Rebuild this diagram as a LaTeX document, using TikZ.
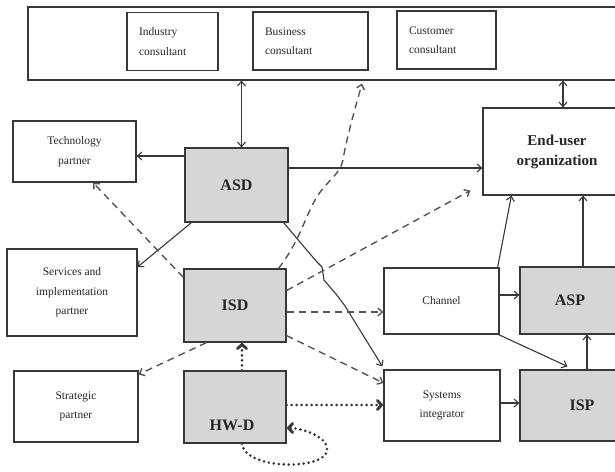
\documentclass[tikz,border=0pt]{standalone}
\usepackage{fontspec}
\setmainfont{Liberation Serif}
\usetikzlibrary{arrows.meta}
\definecolor{boxfill}{HTML}{D6D6D6}
\definecolor{ln}{HTML}{383838}
\definecolor{dl}{HTML}{555555}
\begin{document}
\begin{tikzpicture}[x=1pt,y=-1pt,
  every node/.style={inner sep=0pt,text=black!85,font=\fontsize{11.5}{19.5}\selectfont},
  bx/.style 2 args={draw=ln,line width=1.2pt,minimum width=#1,minimum height=#2,align=center},
  gbx/.style 2 args={bx={#1}{#2},fill=boxfill},
  bold/.style={font=\fontsize{16}{20}\selectfont\bfseries},
  ctext/.style={draw=ln,line width=1.2pt,align=left,inner xsep=12pt,text width=#1,minimum height=58pt},
  tip/.style={-{Straight Barb[length=4.5pt,width=8pt]}},
  solidln/.style={draw=ln,line width=1.1pt,tip},
  dashln/.style={draw=dl,line width=1.4pt,dash pattern=on 7pt off 5pt,tip},
  dotln/.style={draw=ln,line width=2.9pt,dash pattern=on 0pt off 5pt,line cap=round,
     -{Straight Barb[length=4pt,width=9pt,line cap=round]}},
]
\useasboundingbox (0,0) rectangle (615,471);
\clip (0,0) rectangle (615,471);
\fill[white] (0,0) rectangle (615,471);

% top group
\node[bx={612pt}{73pt}] (top) at (334,43.5) {};
\node[ctext=67pt] (ind) at (172.5,41.5) {Industry\\consultant};
\node[ctext=91pt] (bus) at (310.5,41) {Business\\consultant};
\node[ctext=75pt] (cus) at (446.5,40) {Customer\\consultant};

% left column
\node[bx={123pt}{61pt}] (tech) at (74.5,151.5) {Technology\\partner};
\node[bx={130pt}{87pt}] (serv) at (72,292.5) {Services and\\implementation\\partner};
\node[bx={124pt}{71pt}] (strat) at (76,406.5) {Strategic\\partner};

% middle column
\node[gbx={103pt}{74pt},bold] (asd) at (236.5,185) {ASD};
\node[gbx={102pt}{73pt},bold] (isd) at (235,305.5) {ISD};
\node[gbx={102pt}{72pt}] (hwd) at (235,407) {};
\node[bold] (hwdlabel) at (232,425) {HW-D};

% right part
\node[bx={148pt}{87pt},bold,font=\fontsize{15}{20}\selectfont\bfseries] (end) at (557,151.5) {End-user\\organization};
\node[bx={115pt}{66pt}] (chan) at (441.5,301) {Channel};
\node[gbx={100pt}{67pt},bold] (asp) at (570,300.5) {ASP};
\node[bx={116pt}{71pt}] (si) at (442,405.5) {Systems\\integrator};
\node[gbx={124pt}{71pt},bold] (isp) at (582,405.5) {ISP};

% solid connectors
\draw[solidln,{Straight Barb[length=4.5pt,width=8pt]}-{Straight Barb[length=4.5pt,width=8pt]}]
  ([xshift=5pt]asd.north) -- ([xshift=5pt]asd.north |- top.south);
\draw[solidln,{Straight Barb[length=4.5pt,width=8pt]}-{Straight Barb[length=4.5pt,width=8pt]}]
  ([xshift=6pt]end.north) -- ([xshift=6pt]end.north |- top.south);
\draw[solidln] (asd.west |- 0,156) -- (tech.east |- 0,156);
\draw[solidln] (asd.east |- 0,168) -- (end.west |- 0,168);
\draw[solidln] ([xshift=7pt]asd.south west) -- (serv.east |- 0,267);
\draw[solidln] ([xshift=-5pt]asd.south east) -- (305,248) -- (317,262) -- (322,267)
  -- (324,280) -- (336,294) -- (345,306) -- ([xshift=-1pt,yshift=3pt]si.north west);
\draw[solidln] ([xshift=-2pt]chan.north east) -- ([xshift=29pt]end.south west);
\draw[solidln] (asp.north -| 583,0) -- (end.south -| 583,0);
\draw[solidln] (chan.east |- 0,295) -- (asp.west |- 0,295);
\draw[solidln] ([xshift=-1pt]chan.south east) -- ([xshift=48pt,yshift=3pt]isp.north west);
\draw[solidln] (isp.north -| 587,0) -- (asp.south -| 587,0);
\draw[solidln] (si.east |- 0,403) -- (isp.west |- 0,403);

% dashed connectors
\draw[dashln] ([yshift=-9pt]isd.north west) -- ([xshift=18.5pt]tech.south);
\draw[dashln] ([xshift=-8pt]isd.north east) .. controls (300,240) and (303,222) .. (315,200)
  .. controls (325,182) and (340,175) .. (343,160) .. controls (346,140) and (356,105) .. ([yshift=-3pt]top.south -| 362,0);
\draw[dashln] ([yshift=15pt]isd.east) -- ([xshift=-12pt,yshift=5pt]end.south west);
\draw[dashln] (isd.east |- 0,312) -- (chan.west |- 0,312);
\draw[dashln] ([yshift=7pt]isd.south east) -- (si.west |- 0,383);
\draw[dashln] ([xshift=23pt]isd.south west) -- ([yshift=-4pt]strat.north east);

% dotted connectors
\draw[dotln] ([xshift=7pt]hwd.north) -- ([xshift=7pt]isd.south);
\draw[dotln] (hwd.east |- 0,405) -- (si.west |- 0,405);
\draw[dotln] ([xshift=7pt]hwd.south) .. controls +(3,28) and +(5,22) .. (327,448)
  .. controls +(-1,-12) and +(14,0) .. ([yshift=-21pt]hwd.east);
\end{tikzpicture}
\end{document}
